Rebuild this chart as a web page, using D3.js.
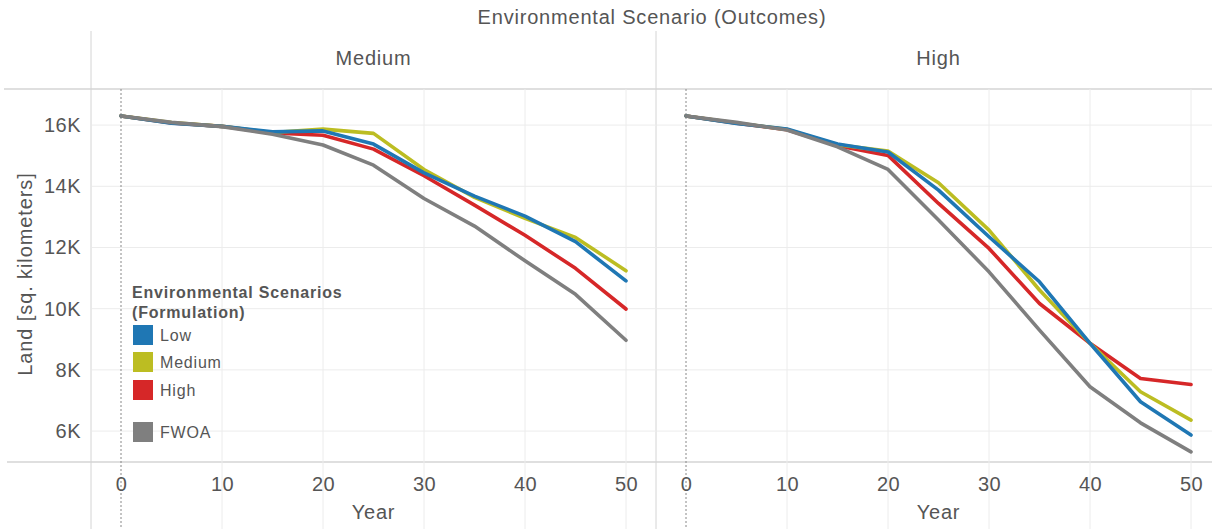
<!DOCTYPE html>
<html><head><meta charset="utf-8">
<script src="https://cdn.jsdelivr.net/npm/d3@7"></script>
<style>
html,body{margin:0;padding:0;background:#fff;}
svg{display:block;font-family:"Liberation Sans",Arial,sans-serif;}
</style></head>
<body>
<svg id="chart" width="1212" height="529"></svg>
<script>
const years = [0,5,10,15,20,25,30,35,40,45,50];
const panels = ["Medium","High"];
const seriesNames = ["Low","Medium","High","FWOA"];
const seriesColors = ["#1f77b4","#bcbd22","#d62728","#7f7f7f"];
const yTicks = [6000,8000,10000,12000,14000,16000];
const xTicks = [0,10,20,30,40,50];

// Outcome panel "Medium"
const medLow    = [16300,16060,15960,15780,15810,15380,14440,13680,13025,12190,10910];
const medMedium = [16300,16080,15960,15760,15870,15730,14550,13640,12950,12330,11240];
const medHigh   = [16300,16070,15960,15740,15670,15215,14345,13385,12400,11320,9990];
const medFWOA   = [16300,16090,15950,15700,15350,14690,13600,12700,11565,10470,8970];
// Outcome panel "High"
const highLow    = [16300,16055,15870,15380,15120,13875,12350,10880,8870,6960,5870];
const highMedium = [16300,16070,15860,15360,15150,14115,12570,10610,8870,7285,6360];
const highHigh   = [16300,16060,15850,15330,15010,13440,11970,10170,8870,7720,7525];
const highFWOA   = [16300,16090,15840,15290,14550,12900,11205,9300,7450,6270,5320];

const panelData = [
  [medLow, medMedium, medHigh, medFWOA],
  [highLow, highMedium, highHigh, highFWOA]
];

(function(){
const svg = d3.select("#chart");
const textCol = "#555";
const gridCol = "#ececec";
const frameCol = "#d4d4d4";
const ls = "0.8px";

const plotTop = 89, plotBottom = 462;
const panelX = [[91,656],[656,1212]];

const y = d3.scaleLinear().domain([4990,17180]).range([plotBottom, plotTop]);

svg.append("text").attr("x",652).attr("y",24).attr("text-anchor","middle")
  .attr("fill",textCol).attr("font-size",20).attr("letter-spacing",ls).text("Environmental Scenario (Outcomes)");

svg.append("line").attr("x1",4).attr("x2",1212).attr("y1",plotTop).attr("y2",plotTop).attr("stroke",frameCol).attr("stroke-width",1.5);
svg.append("line").attr("x1",7).attr("x2",1212).attr("y1",plotBottom).attr("y2",plotBottom).attr("stroke",frameCol).attr("stroke-width",1.5);
[91,656].forEach(xx=>{
  svg.append("line").attr("x1",xx).attr("x2",xx).attr("y1",31).attr("y2",529).attr("stroke",frameCol).attr("stroke-width",1);
});

const yAxisG = svg.append("g").attr("transform","translate(91,0)");
yAxisG.call(d3.axisLeft(y).tickValues(yTicks).tickSize(0).tickPadding(10).tickFormat(d=>(d/1000)+"K"));
yAxisG.select(".domain").remove();
yAxisG.selectAll("text").attr("fill",textCol).attr("font-size",20).attr("letter-spacing","0.5px")
  .attr("font-family","Liberation Sans, Arial, sans-serif");

svg.append("text").attr("transform","translate(32,274) rotate(-90)").attr("text-anchor","middle")
  .attr("fill",textCol).attr("font-size",20).attr("letter-spacing","0.9px").text("Land [sq. kilometers]");

const line = d3.line();

panels.forEach((p,pi)=>{
  const [x0,x1] = panelX[pi];
  const x = d3.scaleLinear().domain([0,50]).range([x0+30, x0+30+505]);
  const g = svg.append("g");
  yTicks.forEach(t=>{
    g.append("line").attr("x1",x0+1).attr("x2",x1).attr("y1",y(t)).attr("y2",y(t)).attr("stroke",gridCol).attr("stroke-width",1);
  });
  xTicks.filter(t=>t>0).forEach(t=>{
    g.append("line").attr("x1",x(t)).attr("x2",x(t)).attr("y1",plotTop).attr("y2",529).attr("stroke",gridCol).attr("stroke-width",1);
  });
  g.append("line").attr("x1",x(0)).attr("x2",x(0)).attr("y1",plotTop).attr("y2",529)
    .attr("stroke","#888").attr("stroke-width",1).attr("stroke-dasharray","2,2");
  svg.append("text").attr("x",x(25)).attr("y",65).attr("text-anchor","middle")
    .attr("fill",textCol).attr("font-size",20).attr("letter-spacing",ls).text(p);
  const xa = svg.append("g").attr("transform",`translate(0,${plotBottom})`);
  xa.call(d3.axisBottom(x).tickValues(xTicks).tickSize(0).tickPadding(29));
  xa.select(".domain").remove();
  xa.selectAll("text").attr("fill",textCol).attr("font-size",20).attr("letter-spacing","0.5px")
    .attr("dy",null).attr("font-family","Liberation Sans, Arial, sans-serif");
  svg.append("text").attr("x",x(25)).attr("y",519).attr("text-anchor","middle")
    .attr("fill",textCol).attr("font-size",20).attr("letter-spacing",ls).text("Year");
  const order = [2,1,0,3];
  order.forEach(si=>{
    const vals = panelData[pi][si];
    g.append("path").datum(years.map((yr,i)=>[x(yr), y(vals[i])]))
      .attr("d",line).attr("fill","none").attr("stroke",seriesColors[si])
      .attr("stroke-width",3.6).attr("stroke-linejoin","round").attr("stroke-linecap","round");
  });
});

const lg = svg.append("g");
lg.append("text").attr("x",132).attr("y",298).attr("fill",textCol).attr("font-size",16).attr("letter-spacing","0.8px").attr("font-weight","bold").text("Environmental Scenarios");
lg.append("text").attr("x",132).attr("y",318).attr("fill",textCol).attr("font-size",16).attr("letter-spacing","0.8px").attr("font-weight","bold").text("(Formulation)");
const legY = [325,352,380,422];
seriesNames.forEach((n,i)=>{
  lg.append("rect").attr("x",133).attr("y",legY[i]).attr("width",20).attr("height",20).attr("fill",seriesColors[i]);
  lg.append("text").attr("x",160).attr("y",legY[i]+16).attr("fill",textCol).attr("font-size",16).attr("letter-spacing","0.8px").text(n);
});
})();
</script>
</body></html>
